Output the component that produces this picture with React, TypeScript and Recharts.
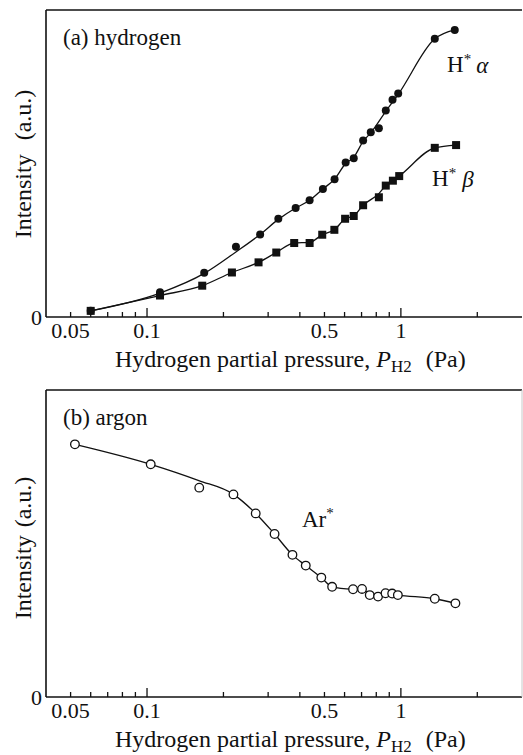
import React from 'react';
import { ComposedChart, Line, Scatter, XAxis, YAxis } from 'recharts';

// pressure (Pa) and intensity (a.u.)
const alphaP = [0.06, 0.1125, 0.168, 0.224, 0.279, 0.329, 0.385, 0.437, 0.493, 0.548, 0.606, 0.652, 0.71, 0.761, 0.819, 0.872, 0.927, 0.976, 1.36, 1.63];
const alphaI = [0.2, 0.81, 1.44, 2.29, 2.69, 3.2, 3.55, 3.8, 4.17, 4.49, 5.03, 5.17, 5.75, 6.02, 6.15, 6.73, 7.08, 7.28, 9.06, 9.35];
const alphaFitP = [0.06, 0.1125, 0.168, 0.224, 0.279, 0.329, 0.385, 0.437, 0.493, 0.548, 0.606, 0.652, 0.71, 0.761, 0.872, 0.976, 1.36, 1.63];
const alphaFitI = [0.2, 0.78, 1.42, 2.12, 2.69, 3.18, 3.55, 3.8, 4.17, 4.49, 5.0, 5.2, 5.72, 6.0, 6.7, 7.25, 9.06, 9.35];

const betaP = [0.06, 0.1125, 0.165, 0.216, 0.275, 0.323, 0.38, 0.437, 0.49, 0.547, 0.603, 0.652, 0.71, 0.819, 0.872, 0.93, 0.985, 1.36, 1.65];
const betaI = [0.2, 0.7, 1.02, 1.45, 1.78, 2.1, 2.41, 2.41, 2.68, 2.84, 3.2, 3.29, 3.64, 3.9, 4.28, 4.44, 4.59, 5.51, 5.6];
const betaFitP = [0.06, 0.1125, 0.165, 0.216, 0.275, 0.323, 0.38, 0.437, 0.49, 0.547, 0.603, 0.652, 0.71, 0.819, 0.872, 0.93, 0.985, 1.36, 1.65];
const betaFitI = [0.2, 0.7, 1.02, 1.45, 1.78, 2.1, 2.41, 2.43, 2.68, 2.84, 3.2, 3.29, 3.64, 4.02, 4.28, 4.44, 4.59, 5.51, 5.6];

const argonP = [0.052, 0.1034, 0.1606, 0.219, 0.268, 0.318, 0.374, 0.422, 0.486, 0.536, 0.648, 0.703, 0.754, 0.813, 0.87, 0.924, 0.973, 1.36, 1.64];
const argonI = [8.23, 7.58, 6.82, 6.6, 5.98, 5.31, 4.63, 4.28, 3.89, 3.59, 3.51, 3.52, 3.32, 3.27, 3.38, 3.37, 3.32, 3.2, 3.05];
const argonFitP = [0.052, 0.1034, 0.16, 0.219, 0.268, 0.318, 0.374, 0.422, 0.486, 0.536, 0.648, 0.703, 0.754, 0.813, 0.87, 0.924, 0.973, 1.36, 1.64];
const argonFitI = [8.23, 7.58, 7.05, 6.6, 5.98, 5.31, 4.63, 4.28, 3.89, 3.59, 3.51, 3.5, 3.36, 3.3, 3.36, 3.35, 3.32, 3.2, 3.05];

const xTicks = [0.05, 0.06, 0.07, 0.08, 0.09, 0.1, 0.2, 0.3, 0.4, 0.5, 0.6, 0.7, 0.8, 0.9, 1, 2];
const xLabels = [0.05, 0.1, 0.5, 1];
const xMajor = [0.1, 1];
const yRightTicks = [1, 2, 3, 4, 5, 6, 7, 8, 9];

const FONT = '"Liberation Serif", "Times New Roman", serif';
const INK = '#111';

const pts = (xs: number[], ys: number[]) => xs.map((x, i) => ({ x, y: ys[i] }));

function BottomTick(props: any) {
  const { x, y, payload } = props;
  const v = payload.value;
  const len = xMajor.includes(v) ? 9 : 5;
  return (
    <g>
      <line x1={x} x2={x} y1={y} y2={y - len} stroke={INK} strokeWidth={1.3} />
      {xLabels.includes(v) && (
        <text x={x} y={y + 21} textAnchor="middle" fontSize={22} fontFamily={FONT} fill={INK}>
          {String(v)}
        </text>
      )}
    </g>
  );
}

function TopTick(props: any) {
  const { x, y, payload } = props;
  const len = xMajor.includes(payload.value) ? 9 : 5;
  return <line x1={x} x2={x} y1={y} y2={y + len} stroke={INK} strokeWidth={1.3} />;
}

function RightTick(props: any) {
  const { x, y } = props;
  return <line x1={x - 6} x2={x} y1={y} y2={y} stroke={INK} strokeWidth={1.3} />;
}

function ZeroTick(props: any) {
  const { x, y } = props;
  return (
    <text x={x - 4} y={y + 8} textAnchor="end" fontSize={22} fontFamily={FONT} fill={INK}>
      0
    </text>
  );
}

const Dot = (p: any) => <circle cx={p.cx} cy={p.cy} r={4} fill={INK} />;
const Square = (p: any) => <rect x={p.cx - 4} y={p.cy - 4} width={8} height={8} fill={INK} />;
const Ring = (p: any) => <circle cx={p.cx} cy={p.cy} r={4.3} fill="#fff" stroke={INK} strokeWidth={1.3} />;

function Panel({
  top,
  height,
  children,
  rightTicks,
  title,
  yLabelY,
}: {
  top: number;
  height: number;
  children: React.ReactNode;
  rightTicks: boolean;
  title: string;
  yLabelY: number;
}) {
  // plot frame: x 46..522, y 10..317 inside each panel
  const plotBottom = 317;
  return (
    <div style={{ position: 'absolute', left: 0, top, width: 523, height }}>
      <ComposedChart width={523} height={height} margin={{ top: 9, right: 0, bottom: height - plotBottom - 1, left: 45 }}>
        <XAxis
          xAxisId="b"
          dataKey="x"
          type="number"
          scale="log"
          domain={[0.04, 3]}
          allowDataOverflow
          ticks={xTicks}
          interval={0}
          height={1}
          tickSize={0}
          tickMargin={0}
          tick={<BottomTick />}
          tickLine={false}
          axisLine={{ stroke: INK, strokeWidth: 1.6 }}
        />
        <XAxis
          xAxisId="t"
          orientation="top"
          type="number"
          scale="log"
          domain={[0.04, 3]}
          allowDataOverflow
          ticks={xTicks}
          interval={0}
          height={1}
          tickSize={0}
          tickMargin={0}
          tick={<TopTick />}
          tickLine={false}
          axisLine={{ stroke: INK, strokeWidth: 1.6 }}
        />
        <YAxis
          yAxisId="l"
          dataKey="y"
          type="number"
          domain={[0, 10]}
          ticks={[0]}
          interval={0}
          width={1}
          tickSize={0}
          tickMargin={0}
          tick={<ZeroTick />}
          tickLine={false}
          axisLine={{ stroke: INK, strokeWidth: 1.6 }}
        />
        <YAxis
          yAxisId="r"
          orientation="right"
          type="number"
          domain={[0, 10]}
          ticks={yRightTicks}
          interval={0}
          width={1}
          tickSize={0}
          tickMargin={0}
          tick={rightTicks ? <RightTick /> : false}
          tickLine={false}
          axisLine={rightTicks ? { stroke: 'transparent' } : { stroke: '#c8c8c8', strokeWidth: 1 }}
        />
        {children}
        <text x={63} y={45} fontSize={23} fontFamily={FONT} fill={INK}>
          {title}
        </text>
        <text
          transform={`translate(31, ${yLabelY}) rotate(-90)`}
          textAnchor="middle"
          fontSize={24}
          fontFamily={FONT}
          fill={INK}
        >
          Intensity<tspan dx={rightTicks ? 14 : 8}>(a.u.)</tspan>
        </text>
        <text x={115} y={367} fontSize={24} fontFamily={FONT} fill={INK}>
          Hydrogen partial pressure,{' '}
          <tspan fontStyle="italic">P</tspan>
          <tspan fontSize={17} dy={5}>H2</tspan>
          <tspan dy={-5} dx={14}>(Pa)</tspan>
        </text>
      </ComposedChart>
    </div>
  );
}

export default function App() {
  return (
    <div
      style={{
        position: 'absolute',
        left: 0,
        top: 0,
        width: 523,
        height: 755,
        overflow: 'hidden',
        background: '#fff',
        fontFamily: FONT,
      }}
    >
      <Panel top={0} height={380} rightTicks title="(a) hydrogen" yLabelY={164}>
        <Line xAxisId="b" yAxisId="l" data={pts(alphaFitP, alphaFitI)} dataKey="y" type="monotone" dot={false} stroke={INK} strokeWidth={1.3} isAnimationActive={false} />
        <Line xAxisId="b" yAxisId="l" data={pts(betaFitP, betaFitI)} dataKey="y" type="monotone" dot={false} stroke={INK} strokeWidth={1.3} isAnimationActive={false} />
        <Scatter xAxisId="b" yAxisId="l" data={pts(alphaP, alphaI)} dataKey="y" shape={Dot} isAnimationActive={false} />
        <Scatter xAxisId="b" yAxisId="l" data={pts(betaP, betaI)} dataKey="y" shape={Square} isAnimationActive={false} />
        <text x={447} y={72} fontSize={23} fontFamily={FONT} fill={INK}>
          H<tspan fontSize={15} dy={-8}>*</tspan>
          <tspan fontStyle="italic" dy={9} dx={5}>α</tspan>
        </text>
        <text x={432} y={186} fontSize={23} fontFamily={FONT} fill={INK}>
          H<tspan fontSize={15} dy={-8}>*</tspan>
          <tspan fontStyle="italic" dy={9} dx={6}>β</tspan>
        </text>
      </Panel>
      <Panel top={380} height={375} rightTicks={false} title="(b) argon" yLabelY={168}>
        <Line xAxisId="b" yAxisId="l" data={pts(argonFitP, argonFitI)} dataKey="y" type="monotone" dot={false} stroke={INK} strokeWidth={1.3} isAnimationActive={false} />
        <Scatter xAxisId="b" yAxisId="l" data={pts(argonP, argonI)} dataKey="y" shape={Ring} isAnimationActive={false} />
        <text x={302} y={147} fontSize={23} fontFamily={FONT} fill={INK}>
          Ar<tspan fontSize={15} dy={-9}>*</tspan>
        </text>
      </Panel>
    </div>
  );
}
